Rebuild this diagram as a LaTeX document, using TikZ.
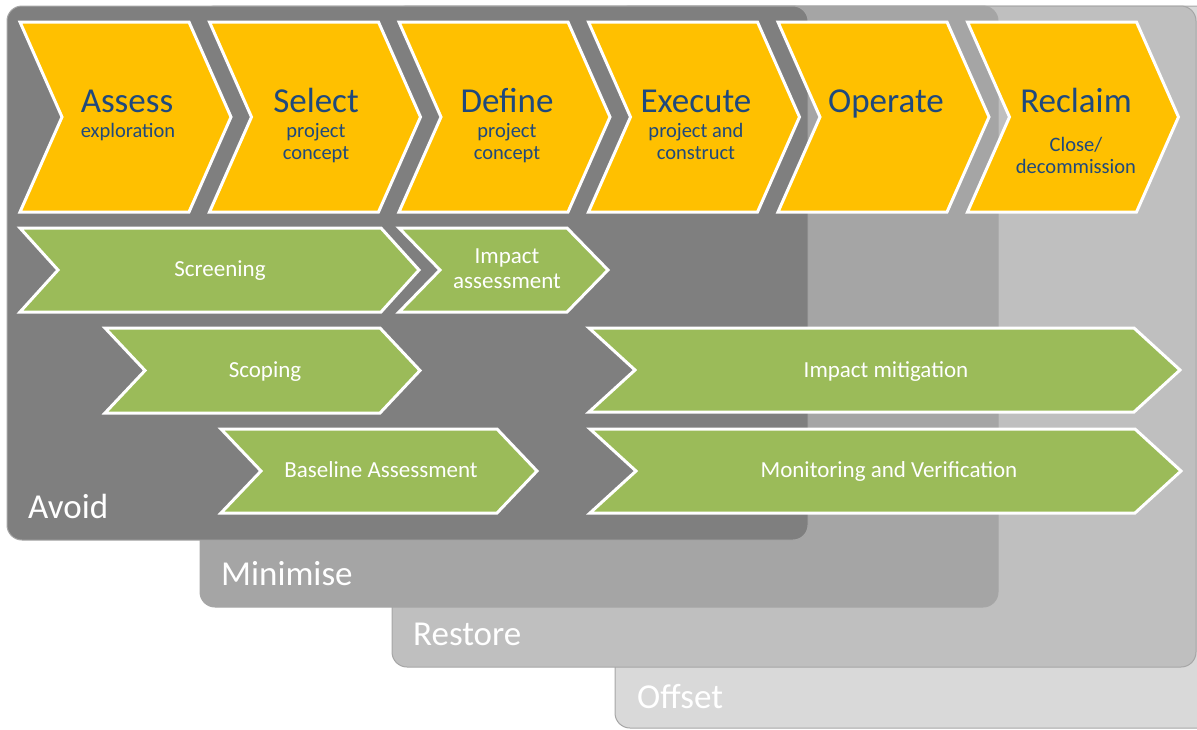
\documentclass[tikz,border=0pt]{standalone}
\usepackage{fontspec}
\setmainfont{Carlito}
\usepackage{tikz}
\definecolor{avoidgray}{RGB}{127,127,127}
\definecolor{minigray}{RGB}{165,165,165}
\definecolor{restoregray}{RGB}{191,191,191}
\definecolor{offsetgray}{RGB}{217,217,217}
\definecolor{phaseyellow}{RGB}{255,192,0}
\definecolor{taskgreen}{RGB}{155,187,89}
\definecolor{darkblue}{RGB}{31,73,125}

% chevron: [style]{left x}{top y}{width}{height}{point depth}
\newcommand{\chevron}[6][]{%
  \draw[#1] (#2,#3) -- ++(#4,0) -- ++(#6,#5/2) -- ++(-#6,#5/2)
    -- ++(-#4,0) -- ++(#6,-#5/2) -- cycle;}

\begin{document}
\begin{tikzpicture}[x=1pt, y=-1pt,
    panel/.style={rounded corners=15pt, draw=black!35, line width=1pt},
    phase/.style={fill=phaseyellow, draw=white, line width=3pt},
    task/.style={fill=taskgreen, draw=white, line width=3pt},
    phasename/.style={text=darkblue, font=\fontsize{35}{37}\selectfont, anchor=base, inner sep=0},
    phasenote/.style={text=darkblue, font=\fontsize{20.5}{22}\selectfont, align=center, anchor=base, inner sep=0},
    tasklabel/.style={text=white, font=\fontsize{23}{25}\selectfont, align=center, anchor=base, inner sep=0},
    level/.style={text=white, font=\fontsize{35}{37}\selectfont, anchor=base west, inner sep=0}]
    \clip (0,0) rectangle (1197,729);

    % Mitigation hierarchy panels, back to front
    \draw[panel, fill=offsetgray] (615,6) rectangle (1240,728);
    \draw[panel, fill=restoregray] (392,6) rectangle (1196,667);
    \draw[panel, fill=minigray] (200,6) rectangle (998,607);
    \draw[panel, fill=avoidgray] (7,6) rectangle (808,540);

    \node[level] (avoid) at (28,518) {Avoid};
    \node[level] (minimise) at (221,585) {Minimise};
    \node[level] (restore) at (413,645) {Restore};
    \node[level] (offset) at (637,708) {Offset};

    % Project phases
    \chevron[phase]{20}{22}{169}{190}{42}
    \chevron[phase]{209.5}{22}{169}{190}{42}
    \chevron[phase]{399}{22}{169}{190}{42}
    \chevron[phase]{588.5}{22}{169}{190}{42}
    \chevron[phase]{778}{22}{169}{190}{42}
    \chevron[phase]{967.5}{22}{169}{190}{42}

    % (two-line notes sit on the baseline of their last line)
    \node[phasename] (assess) at (127,112) {Assess};
    \node[phasenote] (assessnote) at (128,137) {exploration};
    \node[phasename] (select) at (316,112) {Select};
    \node[phasenote] (selectnote) at (316,159) {project\\concept};
    \node[phasename] (define) at (507,112) {Define};
    \node[phasenote] (definenote) at (507,159) {project\\concept};
    \node[phasename] (execute) at (696,112) {Execute};
    \node[phasenote] (executenote) at (696,159) {project and\\construct};
    \node[phasename] (operate) at (886,112) {Operate};
    \node[phasename] (reclaim) at (1076,112) {Reclaim};
    \node[phasenote] (reclaimnote) at (1076,173) {Close/\\decommission};

    % Environmental tasks
    \chevron[task]{20}{228}{361}{84}{38}
    \chevron[task]{399}{228}{168}{84}{41}
    \chevron[task]{105}{328}{275}{85}{40}
    \chevron[task]{221}{429}{276}{84}{40}
    \chevron[task]{589}{328}{545}{84}{46}
    \chevron[task]{590}{429}{545}{84}{46}

    \node[tasklabel] (screening) at (220,276) {Screening};
    \node[tasklabel] (impactassess) at (507,288) {Impact\\assessment};
    \node[tasklabel] (scoping) at (265,377) {Scoping};
    \node[tasklabel] (baseline) at (381,477) {Baseline Assessment};
    \node[tasklabel] (mitigation) at (886,377) {Impact mitigation};
    \node[tasklabel] (monitoring) at (889,477) {Monitoring and Verification};
\end{tikzpicture}
\end{document}
